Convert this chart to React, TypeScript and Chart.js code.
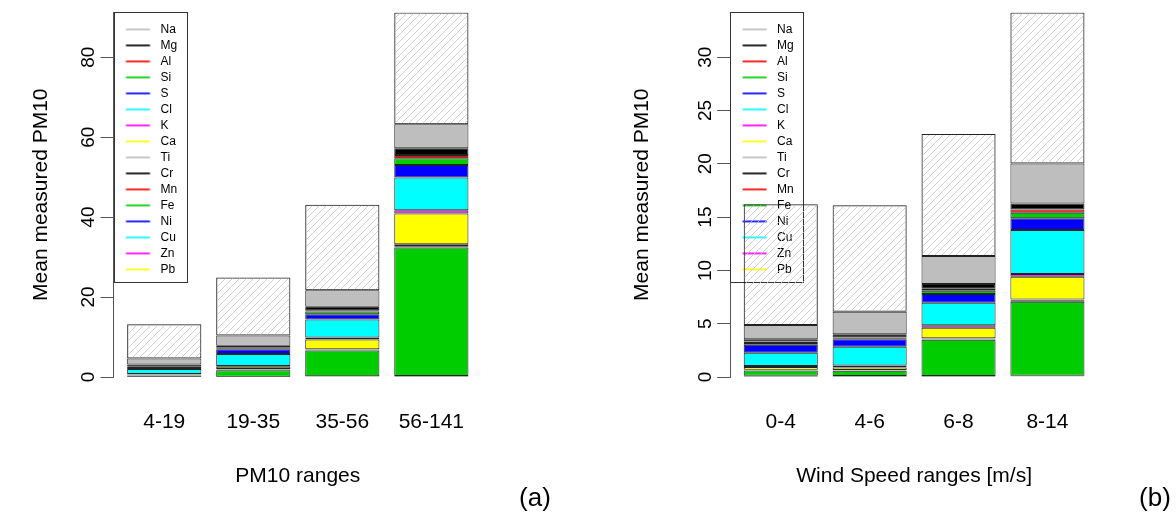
import { useEffect, useRef } from 'react';
import { Chart, registerables } from 'chart.js';

Chart.register(...registerables);

const FONT = '"Liberation Sans", Arial, Helvetica, sans-serif';

// ---------- data ----------
const ELEMENTS = ['Na', 'Mg', 'Al', 'Si', 'S', 'Cl', 'K', 'Ca', 'Ti', 'Cr', 'Mn', 'Fe', 'Ni', 'Cu', 'Zn', 'Pb'];
const ELEMENT_COLORS = [
  '#BEBEBE', '#000000', '#FF0000', '#00CD00', '#0000FF', '#00FFFF', '#FF00FF', '#FFFF00',
  '#BEBEBE', '#000000', '#FF0000', '#00CD00', '#0000FF', '#00FFFF', '#FF00FF', '#FFFF00',
];

const PM10_RANGES = ['4-19', '19-35', '35-56', '56-141'];
const PM_Y_TICKS = [0, 20, 40, 60, 80];
const PM_Na = [1.5, 2.55, 4.1, 6.0];
const PM_Mg = [0.55, 0.5, 0.85, 1.7];
const PM_Al = [0.05, 0.1, 0.35, 0.8];
const PM_Si = [0.05, 0.3, 0.65, 1.7];
const PM_S = [0.5, 1.15, 1.35, 3.1];
const PM_Cl = [1.25, 3.0, 4.5, 8.2];
const PM_K = [0.05, 0.2, 0.5, 0.82];
const PM_Ca = [0.15, 0.6, 2.4, 7.65];
const PM_Ti = [0.05, 0.1, 0.1, 0.2];
const PM_Cr = [0.03, 0.08, 0.1, 0.3];
const PM_Mn = [0.05, 0.1, 0.12, 0.35];
const PM_Fe = [0.35, 1.6, 6.45, 32.1];
const PM_Ni = [0.005, 0.01, 0.03, 0.05];
const PM_Cu = [0.01, 0.02, 0.05, 0.07];
const PM_Zn = [0.02, 0.03, 0.06, 0.08];
const PM_Pb = [0.02, 0.03, 0.06, 0.08];
const PM_Other = [8.56, 14.53, 21.43, 28.0];

const WIND_RANGES = ['0-4', '4-6', '6-8', '8-14'];
const WIND_Y_TICKS = [0, 5, 10, 15, 20, 25, 30];
const WS_Na = [1.35, 2.12, 2.62, 3.75];
const WS_Mg = [0.2, 0.3, 0.44, 0.56];
const WS_Al = [0.15, 0.07, 0.19, 0.32];
const WS_Si = [0.15, 0.1, 0.31, 0.52];
const WS_S = [0.75, 0.69, 0.81, 1.1];
const WS_Cl = [1.24, 1.76, 2.12, 4.12];
const WS_K = [0.1, 0.2, 0.23, 0.26];
const WS_Ca = [0.25, 0.22, 0.99, 2.12];
const WS_Ti = [0.03, 0.02, 0.03, 0.04];
const WS_Cr = [0.02, 0.03, 0.05, 0.08];
const WS_Mn = [0.03, 0.03, 0.05, 0.1];
const WS_Fe = [0.5, 0.48, 3.4, 6.94];
const WS_Ni = [0.02, 0.02, 0.02, 0.02];
const WS_Cu = [0.03, 0.02, 0.02, 0.03];
const WS_Zn = [0.03, 0.03, 0.03, 0.03];
const WS_Pb = [0.03, 0.03, 0.03, 0.04];
const WS_Other = [11.32, 9.98, 11.46, 14.17];

const PM_SERIES = [PM_Na, PM_Mg, PM_Al, PM_Si, PM_S, PM_Cl, PM_K, PM_Ca, PM_Ti, PM_Cr, PM_Mn, PM_Fe, PM_Ni, PM_Cu, PM_Zn, PM_Pb];
const WS_SERIES = [WS_Na, WS_Mg, WS_Al, WS_Si, WS_S, WS_Cl, WS_K, WS_Ca, WS_Ti, WS_Cr, WS_Mn, WS_Fe, WS_Ni, WS_Cu, WS_Zn, WS_Pb];

// ---------- style constants ----------
const LEG_FONT = 12;
const LEG_PAD = 4;
const LEG_BOX_W = 37;
const LEG_INSET = 7;
const LEG_RIGHT = 9;

function makeHatch(ctx: CanvasRenderingContext2D) {
  const c = document.createElement('canvas');
  c.width = 7;
  c.height = 7;
  const g = c.getContext('2d')!;
  g.strokeStyle = '#c4c4c4';
  g.lineWidth = 0.8;
  g.beginPath();
  g.moveTo(-1, 8);
  g.lineTo(8, -1);
  g.moveTo(-1, 1);
  g.lineTo(1, -1);
  g.moveTo(6, 8);
  g.lineTo(8, 6);
  g.stroke();
  return ctx.createPattern(c, 'repeat')!;
}

function makeLegendLine(color: string) {
  const c = document.createElement('canvas');
  c.width = LEG_BOX_W;
  c.height = 4;
  const g = c.getContext('2d')!;
  g.strokeStyle = color;
  g.lineWidth = 1.7;
  g.beginPath();
  g.moveTo(8.5, 2);
  g.lineTo(32.5, 2);
  g.stroke();
  return c;
}

type PanelProps = {
  categories: string[];
  series: number[][];
  other: number[];
  yTicks: number[];
  xTitle: string;
  yAxisWidth: number;
  rightPad: number;
  yTitlePad: number;
  yTickPad: number;
};

function Panel(p: PanelProps) {
  const ref = useRef<HTMLCanvasElement>(null);
  useEffect(() => {
    const canvas = ref.current!;
    const ctx = canvas.getContext('2d')!;
    const hatch = makeHatch(ctx);
    const barProps = {
      borderColor: '#222222',
      borderWidth: 1,
      borderSkipped: false as const,
      categoryPercentage: 1,
      barPercentage: 1 / 1.2,
    };
    const datasets: any[] = [];
    for (let k = ELEMENTS.length - 1; k >= 0; k--) {
      datasets.push({
        label: ELEMENTS[k],
        data: p.series[k].map((v, i) => ({ x: i, y: v })),
        backgroundColor: ELEMENT_COLORS[k],
        ...barProps,
      });
    }
    datasets.push({
      label: 'Other',
      data: p.other.map((v, i) => ({ x: i, y: v })),
      backgroundColor: hatch,
      ...barProps,
    });
    const totals = p.categories.map(
      (_, i) => p.series.reduce((s, arr) => s + arr[i], 0) + p.other[i]
    );
    const yMax = Math.max(...totals);
    const lines = ELEMENT_COLORS.map((c) => makeLegendLine(c));

    const legendPlace = {
      id: 'legendPlace',
      afterLayout(chart: any) {
        const lg = chart.legend;
        if (!lg) return;
        lg.left = chart.chartArea.left;
        lg.top = chart.chartArea.top + LEG_INSET;
        lg.bottom = chart.chartArea.bottom;
        lg.right = chart.chartArea.right;
      },
    };
    const legendFrame = {
      id: 'legendFrame',
      beforeDatasetsDraw(chart: any) {
        const lg = chart.legend;
        if (!lg) return;
        const c = chart.ctx;
        const ca = chart.chartArea;
        c.save();
        c.font = `${LEG_FONT}px ${FONT}`;
        const maxW = Math.max(...lg.legendItems.map((it: any) => c.measureText(it.text).width));
        const w = LEG_PAD + LEG_BOX_W + LEG_FONT / 2 + maxW + LEG_RIGHT;
        const h = 2 * LEG_INSET + lg.legendItems.length * (LEG_FONT + LEG_PAD);
        c.strokeStyle = '#333333';
        c.lineWidth = 1;
        c.strokeRect(Math.round(ca.left) + 0.5, Math.round(ca.top) + 0.5, Math.round(w), Math.round(h));
        c.restore();
      },
    };

    const chart = new Chart(ctx, {
      type: 'bar',
      data: { datasets },
      options: {
        responsive: false,
        devicePixelRatio: 1,
        animation: false,
        events: [],
        layout: { padding: { top: 12, left: 0, right: p.rightPad, bottom: 0 } },
        plugins: {
          tooltip: { enabled: false },
          title: { display: false },
          legend: {
            display: true,
            position: 'chartArea' as any,
            align: 'start',
            labels: {
              color: '#000',
              font: { size: LEG_FONT, family: FONT },
              padding: LEG_PAD,
              usePointStyle: true,
              pointStyleWidth: LEG_BOX_W,
              generateLabels: () =>
                ELEMENTS.map((name, k) => ({
                  text: name,
                  fillStyle: ELEMENT_COLORS[k],
                  strokeStyle: ELEMENT_COLORS[k],
                  lineWidth: 0,
                  pointStyle: lines[k] as any,
                  hidden: false,
                  datasetIndex: ELEMENTS.length - 1 - k,
                  fontColor: '#000',
                })),
            },
          },
        },
        scales: {
          x: {
            type: 'linear',
            stacked: true,
            offset: false,
            min: -0.57,
            max: p.categories.length - 1 + 0.57,
            grid: { display: false, drawTicks: false, offset: false },
            border: { display: false },
            afterBuildTicks: (scale: any) => {
              scale.ticks = p.categories.map((_, i) => ({ value: i }));
            },
            afterFit: (scale: any) => {
              scale.height = 522 - 377;
            },
            ticks: {
              autoSkip: false,
              maxRotation: 0,
              minRotation: 0,
              padding: 33,
              color: '#000',
              font: { size: 21, family: FONT },
              callback: (v: any) => p.categories[v as number],
            },
            title: {
              display: true,
              text: p.xTitle,
              color: '#000',
              font: { size: 21, family: FONT },
              padding: { top: 0, bottom: 33 },
            },
          },
          y: {
            type: 'linear',
            stacked: true,
            min: 0,
            max: yMax,
            afterBuildTicks: (scale: any) => {
              scale.ticks = p.yTicks.map((v) => ({ value: v }));
            },
            afterFit: (scale: any) => {
              scale.width = p.yAxisWidth;
            },
            grid: { display: true, drawOnChartArea: false, drawTicks: true, tickLength: 13, color: '#555555' },
            border: { display: true, color: '#555555', width: 1 },
            ticks: {
              minRotation: 90,
              maxRotation: 90,
              crossAlign: 'center',
              padding: p.yTickPad,
              color: '#000',
              font: { size: 19, family: FONT },
            },
            title: {
              display: true,
              text: 'Mean measured PM10',
              color: '#000',
              font: { size: 21, family: FONT },
              padding: { top: p.yTitlePad, bottom: 0 },
            },
          },
        },
      } as any,
      plugins: [legendPlace, legendFrame],
    });
    return () => chart.destroy();
  }, []);
  return <canvas ref={ref} width={588} height={522} style={{ display: 'block', width: 588, height: 522 }} />;
}

const panelLabel: any = {
  position: 'absolute',
  top: 497,
  transform: 'translate(-50%, -50%)',
  fontFamily: FONT,
  fontSize: 26,
  lineHeight: 1,
  color: '#000',
};

export default function App() {
  return (
    <div style={{ position: 'fixed', left: 0, top: 0, width: 1176, height: 522, background: '#fff', overflow: 'hidden' }}>
      <div style={{ position: 'absolute', left: 0, top: 0 }}>
        <Panel
          categories={PM10_RANGES}
          series={PM_SERIES}
          other={PM_Other}
          yTicks={PM_Y_TICKS}
          xTitle="PM10 ranges"
          yAxisWidth={113.5}
          rightPad={105.9}
          yTitlePad={28.4}
          yTickPad={1}
        />
      </div>
      <div style={{ position: 'absolute', left: 588, top: 0 }}>
        <Panel
          categories={WIND_RANGES}
          series={WS_SERIES}
          other={WS_Other}
          yTicks={WIND_Y_TICKS}
          xTitle="Wind Speed ranges [m/s]"
          yAxisWidth={142.1}
          rightPad={77.9}
          yTitlePad={42}
          yTickPad={1}
        />
      </div>
      <div style={{ ...panelLabel, left: 535 }}>(a)</div>
      <div style={{ ...panelLabel, left: 1155 }}>(b)</div>
    </div>
  );
}
